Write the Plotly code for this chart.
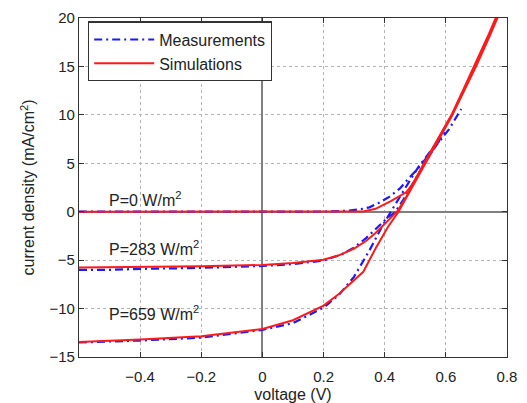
import plotly.graph_objects as go

# ---- data (voltage in V, current density in mA/cm^2) ----
meas_p0_v = [-0.6, -0.4, -0.2, 0.0, 0.2, 0.28, 0.32, 0.35, 0.38, 0.416, 0.45, 0.48, 0.51, 0.535, 0.56, 0.58, 0.61, 0.65]
meas_p0_j = [0.0, 0.0, 0.0, 0.0, 0.02, 0.1, 0.25, 0.45, 0.9, 1.55, 2.4, 3.5, 4.5, 5.5, 6.5, 7.4, 8.5, 10.6]

meas_p283_v = [-0.6, -0.5, -0.4, -0.2, 0.0, 0.1, 0.2, 0.26, 0.3, 0.34, 0.38, 0.41, 0.433, 0.46, 0.49, 0.52, 0.55, 0.58]
meas_p283_j = [-6.0, -6.0, -5.9, -5.8, -5.6, -5.4, -5.05, -4.4, -3.7, -2.7, -1.5, -0.6, -0.1, 1.2, 2.8, 4.4, 6.0, 7.4]

meas_p659_v = [-0.6, -0.5, -0.4, -0.2, 0.0, 0.1, 0.2, 0.25, 0.3, 0.35, 0.39, 0.42, 0.45, 0.48, 0.51, 0.54, 0.57, 0.6]
meas_p659_j = [-13.5, -13.4, -13.3, -13.0, -12.2, -11.5, -9.9, -8.6, -6.7, -4.0, -1.6, 0.0, 1.6, 3.1, 4.6, 5.9, 7.1, 8.3]

sim_p0_v = [-0.6, -0.4, -0.2, 0.0, 0.2, 0.33, 0.37, 0.42, 0.47, 0.49, 0.53, 0.57, 0.62, 0.66, 0.7, 0.74, 0.77]
sim_p0_j = [0.0, 0.0, 0.0, 0.0, 0.0, 0.02, 0.3, 1.1, 2.0, 2.8, 5.0, 7.2, 10.0, 12.6, 15.3, 18.1, 20.3]

sim_p283_v = [-0.6, -0.4, -0.2, 0.0, 0.1, 0.2, 0.25, 0.3, 0.34, 0.37, 0.4, 0.44, 0.47, 0.5, 0.53, 0.57, 0.62, 0.66, 0.7, 0.74, 0.77]
sim_p283_j = [-5.75, -5.7, -5.63, -5.5, -5.3, -4.95, -4.5, -3.8, -3.0, -2.2, -1.3, 0.0, 1.5, 3.3, 5.1, 7.3, 10.1, 12.8, 15.5, 18.3, 20.5]

sim_p659_v = [-0.6, -0.4, -0.2, 0.0, 0.1, 0.2, 0.25, 0.3, 0.33, 0.37, 0.41, 0.445, 0.47, 0.5, 0.53, 0.57, 0.62, 0.66, 0.7, 0.74, 0.77]
sim_p659_j = [-13.45, -13.2, -12.85, -12.1, -11.2, -9.7, -8.5, -7.0, -6.2, -3.8, -1.6, 0.0, 1.4, 3.2, 4.9, 7.1, 9.9, 12.5, 15.1, 17.9, 20.1]

labels = ["P=0 W/m<sup>2</sup>", "P=283 W/m<sup>2</sup>", "P=659 W/m<sup>2</sup>"]
label_x = [-0.51, -0.51, -0.51]
label_y = [1.3, -3.75, -10.45]

x_ticks = [-0.4, -0.2, 0, 0.2, 0.4, 0.6, 0.8]
y_ticks = [-15, -10, -5, 0, 5, 10, 15, 20]

FONT = "Liberation Sans, Arial, sans-serif"
BLUE = "#1a1aff"
RED = "#ff1a1a"
TXT = "#222222"

fig = go.Figure()

meas = [(meas_p0_v, meas_p0_j), (meas_p283_v, meas_p283_j), (meas_p659_v, meas_p659_j)]
sims = [(sim_p0_v, sim_p0_j), (sim_p283_v, sim_p283_j), (sim_p659_v, sim_p659_j)]

for i, (v, j) in enumerate(meas):
    fig.add_trace(go.Scatter(x=v, y=j, mode="lines", name="Measurements",
                             showlegend=(i == 0),
                             line=dict(color=BLUE, width=2.2, dash="8px,4px,2px,4px")))
for i, (v, j) in enumerate(sims):
    fig.add_trace(go.Scatter(x=v, y=j, mode="lines", name="Simulations",
                             showlegend=(i == 0),
                             line=dict(color=RED, width=2)))

for t, x, y in zip(labels, label_x, label_y):
    fig.add_annotation(x=x, y=y, text=t, showarrow=False, xanchor="left", yanchor="middle",
                       font=dict(family=FONT, size=16, color=TXT))

axis_common = dict(
    showgrid=True, gridcolor="#b4b4b4", griddash="dot", gridwidth=1,
    showline=True, linecolor="#333333", linewidth=1.2, mirror="ticks",
    ticks="inside", ticklen=5, tickcolor="#333333",
    zeroline=True, zerolinecolor="#808080", zerolinewidth=1.6,
    tickfont=dict(family=FONT, size=15, color=TXT),
    automargin=False,
)

def fmt(t):
    return f"{t:g}".replace("-", "\u2212")

fig.update_xaxes(range=[-0.6, 0.8], tickvals=x_ticks, ticktext=[fmt(t) for t in x_ticks],
                 ticklabelstandoff=6,
                 title=dict(text="voltage (V)", font=dict(family=FONT, size=16, color=TXT), standoff=6),
                 **axis_common)
fig.update_yaxes(range=[-15, 20], tickvals=y_ticks, ticktext=[fmt(t) for t in y_ticks],
                 title=dict(text="current density (mA/cm<sup>2</sup>)", font=dict(family=FONT, size=16, color=TXT), standoff=10),
                 **axis_common)

# page body has an 8px default margin: compensate so the plot area lands at x 79..507, y 18..357
fig.update_layout(
    width=519, height=395,
    margin=dict(l=71, r=20, t=10, b=46),
    paper_bgcolor="white", plot_bgcolor="white",
    font=dict(family=FONT, size=16, color=TXT),
    legend=dict(x=0.021, y=0.99, xanchor="left", yanchor="top",
                bgcolor="white", bordercolor="#333333", borderwidth=1.2,
                itemwidth=60, font=dict(family=FONT, size=16, color=TXT),
                tracegroupgap=0),
    showlegend=True,
)

fig.write_html("out.html")
